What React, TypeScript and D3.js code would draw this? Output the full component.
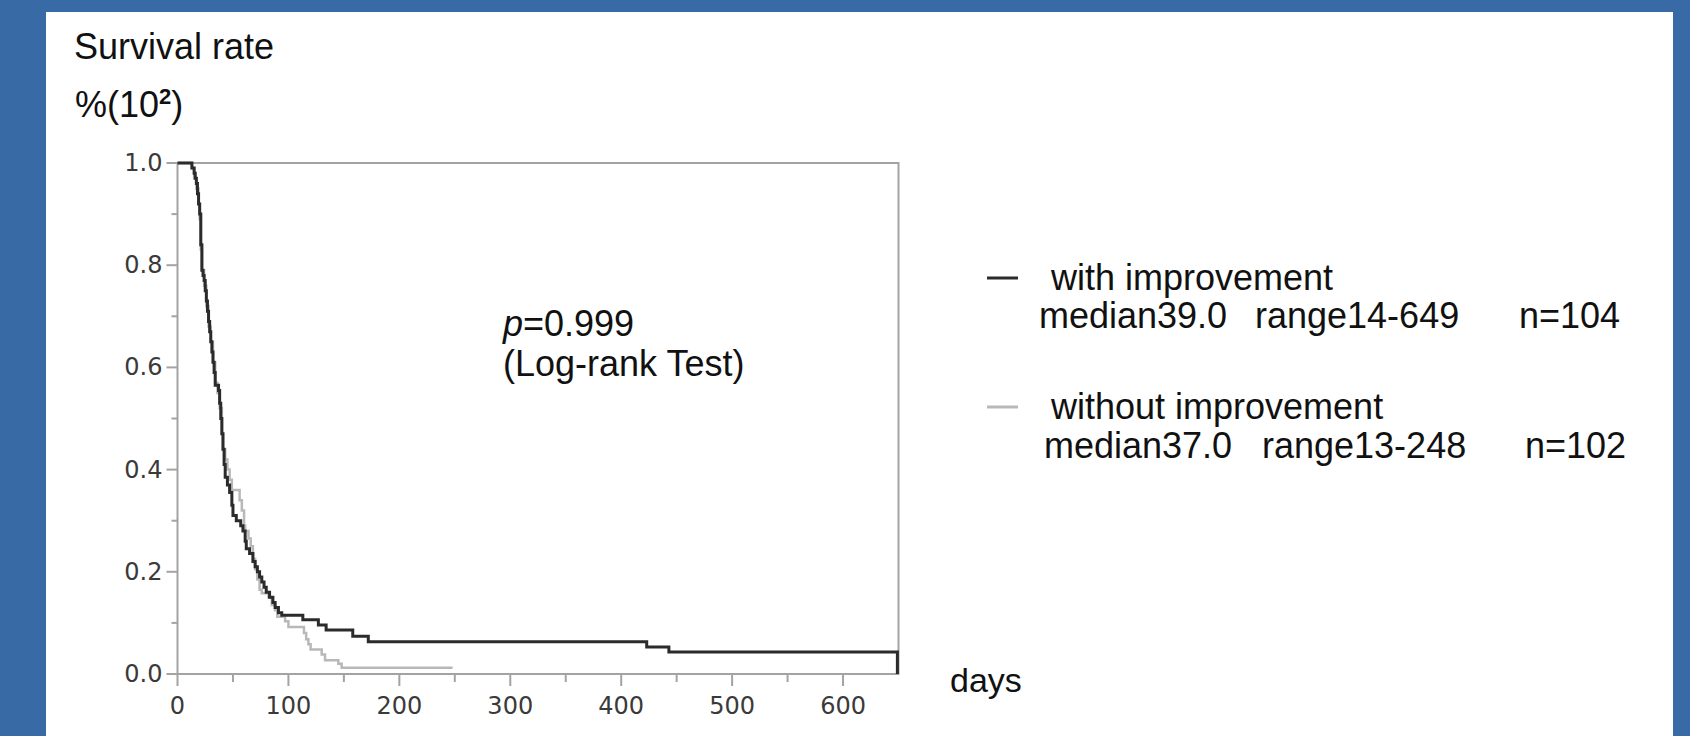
import React from "react";
import * as d3 from "d3";

// ---- data ----
const withDays = [0, 13, 15, 16, 17, 18, 19, 20, 21, 22, 23, 24, 25, 26, 27, 28, 29, 30, 31, 32, 33, 34, 37, 38, 39, 40, 41, 42, 43, 45, 47, 49, 50, 53, 57, 59, 61, 62, 65, 68, 70, 72, 74, 76, 78, 80, 83, 86, 88, 91, 94, 113, 127, 134, 158, 172, 423, 443, 649];
const withSurv = [1, 0.99, 0.98, 0.97, 0.96, 0.94, 0.92, 0.9, 0.84, 0.79, 0.78, 0.77, 0.75, 0.73, 0.71, 0.69, 0.67, 0.65, 0.63, 0.61, 0.59, 0.565, 0.555, 0.53, 0.5, 0.47, 0.44, 0.41, 0.385, 0.37, 0.355, 0.33, 0.31, 0.3, 0.29, 0.28, 0.26, 0.245, 0.236, 0.22, 0.21, 0.2, 0.19, 0.18, 0.17, 0.16, 0.15, 0.14, 0.13, 0.12, 0.115, 0.106, 0.096, 0.086, 0.074, 0.063, 0.053, 0.043, 0];

const withoutDays = [0, 13, 15, 17, 19, 20, 21, 22, 24, 26, 28, 30, 32, 34, 36, 38, 40, 41, 43, 45, 47, 49, 56, 58, 60, 61, 64, 66, 68, 70, 72, 74, 76, 82, 85, 88, 90, 97, 100, 114, 116, 118, 120, 130, 133, 145, 148, 248];
const withoutSurv = [1, 0.99, 0.97, 0.95, 0.92, 0.89, 0.83, 0.79, 0.76, 0.72, 0.68, 0.65, 0.61, 0.57, 0.55, 0.52, 0.47, 0.44, 0.42, 0.4, 0.38, 0.36, 0.34, 0.32, 0.29, 0.28, 0.265, 0.25, 0.225, 0.205, 0.185, 0.165, 0.158, 0.15, 0.135, 0.125, 0.112, 0.103, 0.092, 0.08, 0.068, 0.058, 0.048, 0.038, 0.027, 0.02, 0.012, 0.012];

const yTickValues = [0, 0.2, 0.4, 0.6, 0.8, 1.0];
const yMinorTicks = [0.1, 0.3, 0.5, 0.7, 0.9];
const xTickValues = [0, 100, 200, 300, 400, 500, 600];
const xMinorTicks = [50, 150, 250, 350, 450, 550];

const legendNames = ["with improvement", "without improvement"];
const legendMedians = ["median39.0", "median37.0"];
const legendRanges = ["range14-649", "range13-248"];
const legendNs = ["n=104", "n=102"];

export default function App() {
  const W = 1690, H = 736;
  const x = d3.scaleLinear().domain([0, 650]).range([177.5, 898.5]);
  const y = d3.scaleLinear().domain([0, 1]).range([674, 163]);

  const line = d3
    .line<[number, number]>()
    .x((d) => x(d[0]))
    .y((d) => y(d[1]))
    .curve(d3.curveStepAfter);

  const withPts: [number, number][] = withDays.map((d, i) => [d, withSurv[i]]);
  const withoutPts: [number, number][] = withoutDays.map((d, i) => [d, withoutSurv[i]]);

  const arial = "'Liberation Sans', Arial, sans-serif";
  const tickFont = "'DejaVu Sans', Verdana, sans-serif";
  const axisColor = "#a3a3a3";
  const textColor = "#111";

  const legendColors = ["#2b2b2b", "#b8b8b8"];
  const legendRow1 = [290, 419];
  const legendRow2 = [328, 458];
  const medianX = [1039, 1044];
  const rangeX = [1255, 1262];
  const nX = [1519, 1525];

  return (
    <svg
      width={W}
      height={H}
      style={{ position: "absolute", left: 0, top: 0, display: "block" }}
    >
      <rect x={0} y={0} width={W} height={H} fill="#386ba5" />
      <rect x={46} y={12} width={1627} height={H - 12} fill="#ffffff" />

      {/* titles */}
      <text x={74} y={59} fontFamily={arial} fontSize={36} fill={textColor}>
        Survival rate
      </text>
      <text x={75} y={117} fontFamily={arial} fontSize={36} fill={textColor}>
        %(10
        <tspan fontSize={22} fontWeight="bold" dy={-13}>2</tspan>
        <tspan dy={13}>)</tspan>
      </text>

      {/* frame */}
      <rect
        x={x(0)}
        y={y(1)}
        width={x(650) - x(0)}
        height={y(0) - y(1)}
        fill="none"
        stroke={axisColor}
        strokeWidth={2}
      />

      {/* y ticks */}
      {yTickValues.map((v) => (
        <g key={"yt" + v}>
          <line x1={x(0) - 11} x2={x(0)} y1={y(v)} y2={y(v)} stroke={axisColor} strokeWidth={2} />
          <text
            x={x(0) - 15}
            y={y(v)}
            textAnchor="end"
            dominantBaseline="central"
            fontFamily={tickFont}
            fontSize={24}
            fill="#3a3a3a"
          >
            {d3.format(".1f")(v)}
          </text>
        </g>
      ))}
      {yMinorTicks.map((v) => (
        <line key={"ym" + v} x1={x(0) - 6} x2={x(0)} y1={y(v)} y2={y(v)} stroke={axisColor} strokeWidth={2} />
      ))}

      {/* x ticks */}
      {xTickValues.map((v) => (
        <g key={"xt" + v}>
          <line x1={x(v)} x2={x(v)} y1={y(0)} y2={y(0) + 12} stroke={axisColor} strokeWidth={2} />
          <text
            x={x(v)}
            y={714}
            textAnchor="middle"
            fontFamily={tickFont}
            fontSize={24}
            fill="#3a3a3a"
          >
            {v}
          </text>
        </g>
      ))}
      {xMinorTicks.map((v) => (
        <line key={"xm" + v} x1={x(v)} x2={x(v)} y1={y(0)} y2={y(0) + 8} stroke={axisColor} strokeWidth={2} />
      ))}

      {/* curves */}
      <path d={line(withoutPts) || ""} fill="none" stroke={legendColors[1]} strokeWidth={2.5} />
      <path d={line(withPts) || ""} fill="none" stroke={legendColors[0]} strokeWidth={3} />

      {/* annotation */}
      <text x={503} y={336} fontFamily={arial} fontSize={36} fill={textColor}>
        <tspan fontStyle="italic">p</tspan>=0.999
      </text>
      <text x={503} y={376} fontFamily={arial} fontSize={36} fill={textColor}>
        (Log-rank Test)
      </text>

      <text x={950} y={692} fontFamily={arial} fontSize={34} fill={textColor}>
        days
      </text>

      {/* legend */}
      {legendNames.map((name, i) => (
        <g key={name}>
          <line
            x1={987}
            x2={1018}
            y1={legendRow1[i] - 12}
            y2={legendRow1[i] - 12}
            stroke={legendColors[i]}
            strokeWidth={3}
          />
          <text x={1051} y={legendRow1[i]} fontFamily={arial} fontSize={36} fill={textColor}>
            {name}
          </text>
          <text x={medianX[i]} y={legendRow2[i]} fontFamily={arial} fontSize={36} fill={textColor}>
            {legendMedians[i]}
          </text>
          <text x={rangeX[i]} y={legendRow2[i]} fontFamily={arial} fontSize={36} fill={textColor}>
            {legendRanges[i]}
          </text>
          <text x={nX[i]} y={legendRow2[i]} fontFamily={arial} fontSize={36} fill={textColor}>
            {legendNs[i]}
          </text>
        </g>
      ))}
    </svg>
  );
}
